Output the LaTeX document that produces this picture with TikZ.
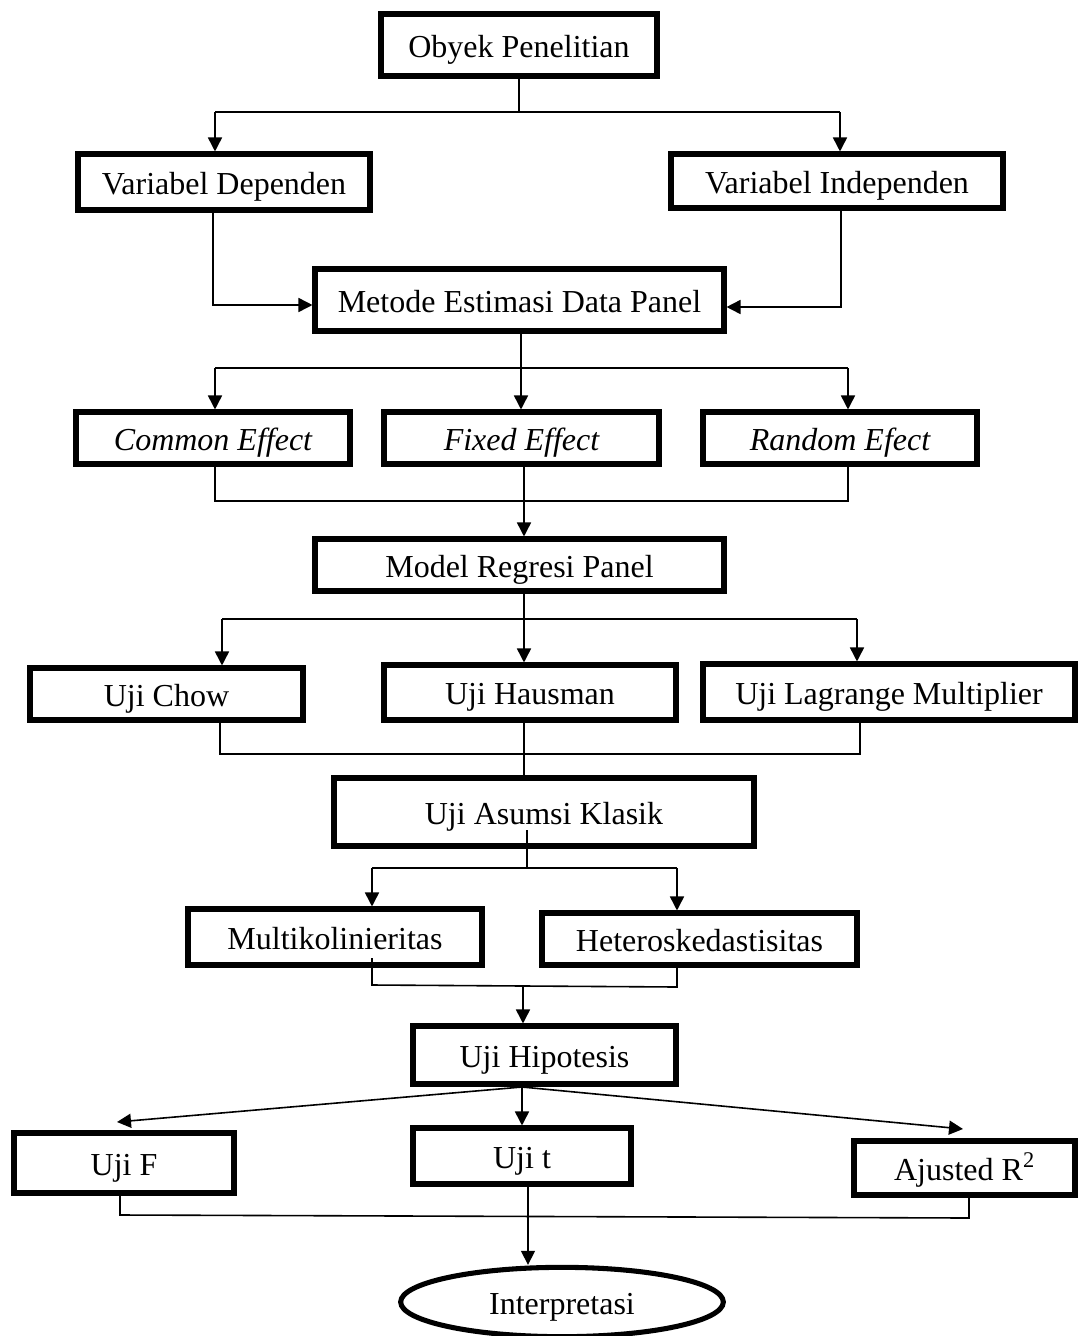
\documentclass[tikz,border=0pt]{standalone}
\usepackage{fontspec}
\setmainfont{Liberation Serif}
\usetikzlibrary{arrows.meta,shapes.geometric}
\begin{document}
\begin{tikzpicture}[x=0.75pt,y=-0.75pt,
  box/.style={draw, line width=3.8pt, rectangle, inner sep=2pt, text height=23pt, text depth=5pt, font=\fontsize{24}{28}\selectfont},
  conn/.style={line width=1.2pt},
  arr/.style={conn, -{Triangle[length=10.5pt,width=10.5pt]}}]
\useasboundingbox (0,0) rectangle (1079,1336);

% nodes
\node[box, minimum width=207pt, minimum height=46.5pt] (obyek) at (519,45) {Obyek Penelitian};
\node[box, minimum width=219pt, minimum height=42pt] (vdep) at (224,182) {Variabel Dependen};
\node[box, minimum width=249pt, minimum height=40.5pt] (vind) at (837,181) {Variabel Independen};
\node[box, minimum width=306.75pt, minimum height=46.5pt] (metode) at (519.5,300) {Metode Estimasi Data Panel};
\node[box, minimum width=205.5pt, minimum height=39pt, font=\fontsize{24}{28}\selectfont\itshape] (common) at (213,438) {Common Effect};
\node[box, minimum width=206.25pt, minimum height=39pt, font=\fontsize{24}{28}\selectfont\itshape] (fixed) at (521.5,438) {Fixed Effect};
\node[box, minimum width=205.5pt, minimum height=39pt, font=\fontsize{24}{28}\selectfont\itshape] (random) at (840,438) {Random Efect};
\node[box, minimum width=306.75pt, minimum height=39pt] (model) at (519.5,565) {Model Regresi Panel};
\node[box, minimum width=204.75pt, minimum height=39pt] (chow) at (166.5,694) {Uji Chow};
\node[box, minimum width=219pt, minimum height=41.25pt] (hausman) at (530,692.5) {Uji Hausman};
\node[box, minimum width=279pt, minimum height=42pt] (lm) at (889,692) {Uji Lagrange Multiplier};
\node[box, minimum width=315pt, minimum height=51pt] (asumsi) at (544,812) {Uji Asumsi Klasik};
\node[box, minimum width=220.5pt, minimum height=42pt] (multi) at (335,937) {Multikolinieritas};
\node[box, minimum width=236.25pt, minimum height=39pt] (hetero) at (699.5,939) {Heteroskedastisitas};
\node[box, minimum width=197.25pt, minimum height=43.5pt] (hipotesis) at (544.5,1055) {Uji Hipotesis};
\node[box, minimum width=165pt, minimum height=45pt] (ujif) at (124,1163) {Uji F};
\node[box, minimum width=163.5pt, minimum height=42pt] (ujit) at (522,1156) {Uji t};
\node[box, minimum width=165.75pt, minimum height=40.5pt] (ajusted) at (964.5,1168) {Ajusted R\textsuperscript{2}};
\node[box, ellipse, inner sep=0pt, minimum width=242pt, minimum height=52pt] (interp) at (562,1302) {Interpretasi};

% Obyek -> Variabel
\coordinate (a1) at (519,112);
\coordinate (a1l) at (215,112);
\coordinate (a1r) at (840,112);
\draw[conn] (obyek) -- (a1);
\draw[conn] (a1l) -- (a1r);
\draw[arr] (a1l) -- (a1l |- vdep.north);
\draw[arr] (a1r) -- (a1r |- vind.north);

% Variabel -> Metode
\coordinate (b1) at (213,305);
\coordinate (b2) at (841,307);
\draw[arr] (b1 |- vdep.south) -- (b1) -- (b1 -| metode.west);
\draw[arr] (b2 |- vind.south) -- (b2) -- (b2 -| metode.east);

% Metode -> effects
\coordinate (c1l) at (215,368);
\coordinate (c1r) at (848,368);
\coordinate (c1m) at (521,368);
\draw[conn] (c1l) -- (c1r);
\draw[arr] (c1m |- metode.south) -- (c1m |- fixed.north);
\draw[arr] (c1l) -- (c1l |- common.north);
\draw[arr] (c1r) -- (c1r |- random.north);

% effects -> Model
\coordinate (d1l) at (215,501);
\coordinate (d1r) at (848,501);
\coordinate (d1m) at (524,501);
\draw[conn] (d1l |- common.south) -- (d1l) -- (d1r) -- (d1r |- random.south);
\draw[arr] (d1m |- fixed.south) -- (d1m |- model.north);

% Model -> tests
\coordinate (e1l) at (222,619);
\coordinate (e1r) at (857,619);
\coordinate (e1m) at (524,619);
\draw[conn] (e1m |- model.south) -- (e1m);
\draw[conn] (e1l) -- (e1r);
\draw[arr] (e1l) -- (e1l |- chow.north);
\draw[arr] (e1m) -- (e1m |- hausman.north);
\draw[arr] (e1r) -- (e1r |- lm.north);

% tests -> Asumsi
\coordinate (f1l) at (220,754);
\coordinate (f1r) at (860,754);
\coordinate (f0r) at (860,717);
\draw[conn] (f1l |- chow.south) -- (f1l) -- (f1r) -- (f0r);
\draw[conn] (e1m |- hausman.south) -- (e1m |- asumsi.north);

% Asumsi -> Multi / Hetero
\coordinate (g0) at (527,830);
\coordinate (g1) at (527,868);
\coordinate (g1l) at (372,868);
\coordinate (g1r) at (677,868);
\draw[conn] (g0) -- (g1);
\draw[conn] (g1l) -- (g1r);
\draw[arr] (g1l) -- (g1l |- multi.north);
\draw[arr] (g1r) -- (g1r |- hetero.north);

% Multi / Hetero -> Hipotesis
\coordinate (h0) at (372,958);
\coordinate (h1l) at (372,985);
\coordinate (h1r) at (677,987);
\coordinate (h1m) at (523,986);
\draw[conn] (h0) -- (h1l) -- (h1r) -- (h1r |- hetero.south);
\draw[arr] (h1m) -- (h1m |- hipotesis.north);

% Hipotesis -> F, t, R2
\coordinate (i0) at (522,1087);
\coordinate (i1) at (117,1122);
\coordinate (i3) at (963,1129);
\draw[arr] (i0) -- (i1);
\draw[arr] (i0) -- (i0 |- ujit.north);
\draw[arr] (i0) -- (i3);

% F, t, R2 -> Interpretasi
\coordinate (j1l) at (120,1215);
\coordinate (j1r) at (969,1218);
\coordinate (j1m) at (528,1217);
\draw[conn] (j1l |- ujif.south) -- (j1l) -- (j1r) -- (j1r |- ajusted.south);
\draw[arr] (j1m |- ujit.south) -- (j1m |- interp.north);
\end{tikzpicture}
\end{document}
